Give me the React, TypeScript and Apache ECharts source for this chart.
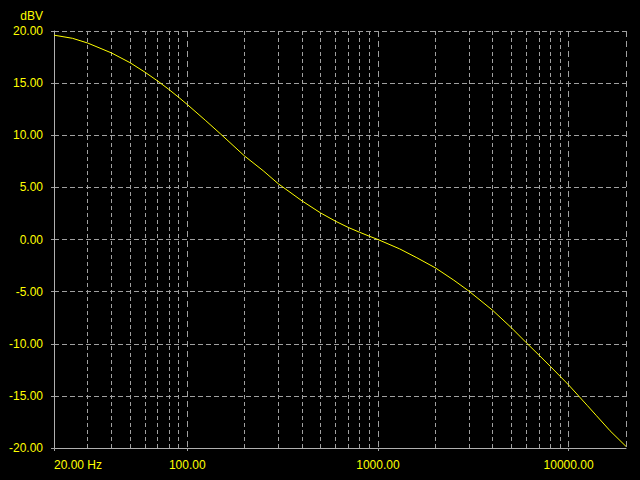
import React, { useEffect, useRef } from "react";
import * as echarts from "echarts";

const freqs = [20, 25, 30, 40, 50, 60, 70, 80, 90, 100, 125, 150, 200, 250, 300, 400, 500, 600, 700, 800, 900, 1000, 1300, 1600, 2000, 2500, 3000, 4000, 5000, 6000, 7000, 8000, 9000, 10000, 12500, 14000, 16500, 20000];
const dbv = [19.6, 19.3, 18.85, 17.9, 16.97, 16.05, 15.2, 14.4, 13.65, 12.95, 11.4, 10.1, 8.0, 6.6, 5.35, 3.7, 2.55, 1.75, 1.15, 0.7, 0.32, 0.0, -0.9, -1.75, -2.72, -3.9, -4.95, -6.8, -8.45, -9.9, -11.1, -12.15, -13.1, -13.95, -15.9, -16.9, -18.35, -19.85];
const minorGrid = [30, 40, 50, 60, 70, 80, 90, 200, 300, 400, 500, 600, 700, 800, 900, 2000, 3000, 4000, 5000, 6000, 7000, 8000, 9000];
const yTicks = { min: -20, max: 20, interval: 5 };
const xRange = { min: 20, max: 20000 };

const YELLOW = "#ffff00";
const GRID = "#a0a0a0";

export default function App() {
  const ref = useRef<HTMLDivElement>(null);
  useEffect(() => {
    document.body.style.margin = "0";
    document.body.style.background = "#000";
    const chart = echarts.init(ref.current!, null, { renderer: "svg" });
    chart.setOption({
      animation: false,
      backgroundColor: "#000000",
      textStyle: { fontFamily: "Liberation Sans, Arial, sans-serif" },
      grid: { left: 54, right: 14, top: 31, bottom: 32, containLabel: false },
      xAxis: {
        type: "log",
        logBase: 10,
        min: xRange.min,
        max: xRange.max,
        axisLine: { show: true, onZero: false, lineStyle: { color: "#b0b0b0", width: 1 } },
        axisTick: { show: true, length: 5, lineStyle: { color: GRID, type: [3, 2] } },
        axisLabel: {
          color: YELLOW,
          fontSize: 12,
          margin: 11,
          alignMinLabel: "left",
          showMinLabel: true,
          showMaxLabel: false,
          formatter: (v: number) => {
            const r = Math.round(v);
            if (r === 20) return "20.00 Hz";
            if (r >= 20000) return "";
            return r.toFixed(2);
          },
        },
        splitLine: { show: true, lineStyle: { color: GRID, type: [6, 4], width: 1 } },
      },
      yAxis: {
        type: "value",
        min: yTicks.min,
        max: yTicks.max,
        interval: yTicks.interval,
        name: "dBV",
        nameLocation: "end",
        nameGap: 9,
        nameTextStyle: { color: YELLOW, fontSize: 12, align: "right", padding: [0, 11, 0, 0] },
        axisLine: { show: true, onZero: false, lineStyle: { color: "#b0b0b0", width: 1 } },
        axisTick: { show: true, length: 5, lineStyle: { color: GRID, type: [3, 2] } },
        axisLabel: {
          color: YELLOW,
          fontSize: 12,
          margin: 11,
          formatter: (v: number) => v.toFixed(2),
        },
        splitLine: { show: true, lineStyle: { color: GRID, type: [5, 3], width: 1 } },
      },
      series: [
        {
          type: "line",
          data: freqs.map((f, i) => [f, dbv[i]]),
          showSymbol: false,
          smooth: false,
          lineStyle: { color: YELLOW, width: 1 },
          itemStyle: { color: YELLOW },
          z: 5,
          markLine: {
            silent: true,
            symbol: ["none", "none"],
            label: { show: false },
            lineStyle: { color: GRID, type: [4, 3], width: 1 },
            data: minorGrid.map((f) => ({ xAxis: f })),
            z: 1,
          },
        },
      ],
    });
    return () => chart.dispose();
  }, []);
  return <div ref={ref} style={{ width: 640, height: 480 }} />;
}
